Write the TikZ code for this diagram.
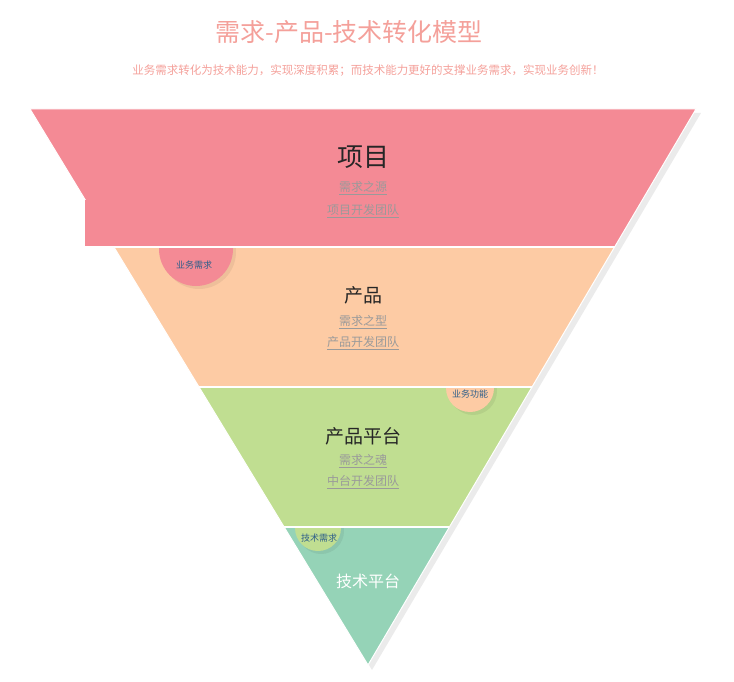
\documentclass[tikz,border=0pt]{standalone}
\usepackage{fontspec}
\setmainfont{Noto Sans CJK SC}
\definecolor{pk}{HTML}{F48A95}
\definecolor{pc}{HTML}{FDCBA4}
\definecolor{gr}{HTML}{C0DE91}
\definecolor{tl}{HTML}{95D3B7}
\definecolor{ttl}{HTML}{F4A09A}
\definecolor{sub}{HTML}{9A9A9A}
\definecolor{bl}{HTML}{2E5F8A}
\begin{document}
\begin{tikzpicture}[x=1pt,y=-1pt,
 sl/.style={text=sub,font=\fontsize{12}{14}\selectfont,inner sep=1pt},
 cl/.style={text=bl,font=\fontsize{9}{10}\selectfont,inner sep=0pt},
 band/.style={draw=white,line width=1pt}]
\useasboundingbox (0,0) rectangle (734,682);
% shadow
\fill[black,opacity=0.08] (35,113) -- (701,113) -- (372,670) -- cycle;
\def\xl#1{30+(#1-109)/556*338}
\def\xr#1{696-(#1-109)/556*328}
\fill[pk,band] (30,109) -- (696,109) -- ({\xr{247}},247) -- ({\xl{247}},247) -- cycle;
\fill[pc,band] ({\xl{247}},247) -- ({\xr{247}},247) -- ({\xr{387}},387) -- ({\xl{387}},387) -- cycle;
\fill[gr,band] ({\xl{387}},387) -- ({\xr{387}},387) -- ({\xr{527}},527) -- ({\xl{527}},527) -- cycle;
\fill[tl,band] ({\xl{527}},527) -- ({\xr{527}},527) -- (368,665) -- cycle;
% circles
\fill[black,opacity=0.06] (199,252) circle (37);
\fill[pk] (196,249) circle (37);
\fill[pk] ({\xl{200}},200) rectangle (245,246.4);
\fill[black,opacity=0.06] (473,391) circle (24);
\fill[pc] (470,388) circle (24);
\fill[pc] (440,360) rectangle ({\xr{386.4}},386.4);
\fill[black,opacity=0.06] (321,531) circle (23);
\fill[gr] (318,528) circle (23);
\fill[gr] (290,500) rectangle (350,526.4);
\draw[white,line width=1.2pt] ({\xl{247}},247) -- ({\xr{247}},247) ({\xl{387}},387) -- ({\xr{387}},387) ({\xl{527}},527) -- ({\xr{527}},527);
\node[cl] (c1) at (194,265) {业务需求};
\node[cl] (c2) at (470,394) {业务功能};
\node[cl] (c3) at (319,538) {技术需求};
% titles
\node[text=ttl,font=\fontsize{25}{28}\selectfont] (t) at (349,32) {需求-产品-技术转化模型};
\node[text=ttl,font=\fontsize{11.5}{13}\selectfont] (st) at (368,71) {业务需求转化为技术能力，实现深度积累；而技术能力更好的支撑业务需求，实现业务创新！};
% labels
\node[font=\fontsize{26}{30}\selectfont,text=black!85] (a) at (363,157) {项目};
\node[sl] (a1) at (363,188) {\underline{需求之源}};
\node[sl] (a2) at (363,211) {\underline{项目开发团队}};
\node[font=\fontsize{19}{22}\selectfont,text=black!85] (b) at (363,295) {产品};
\node[sl] (b1) at (363,322) {\underline{需求之型}};
\node[sl] (b2) at (363,343) {\underline{产品开发团队}};
\node[font=\fontsize{19}{22}\selectfont,text=black!85] (c) at (363,436) {产品平台};
\node[sl] (c1a) at (363,461) {\underline{需求之魂}};
\node[sl] (c2a) at (363,482) {\underline{中台开发团队}};
\node[font=\fontsize{16}{19}\selectfont,text=white] (d) at (368,581) {技术平台};
\end{tikzpicture}
\end{document}
